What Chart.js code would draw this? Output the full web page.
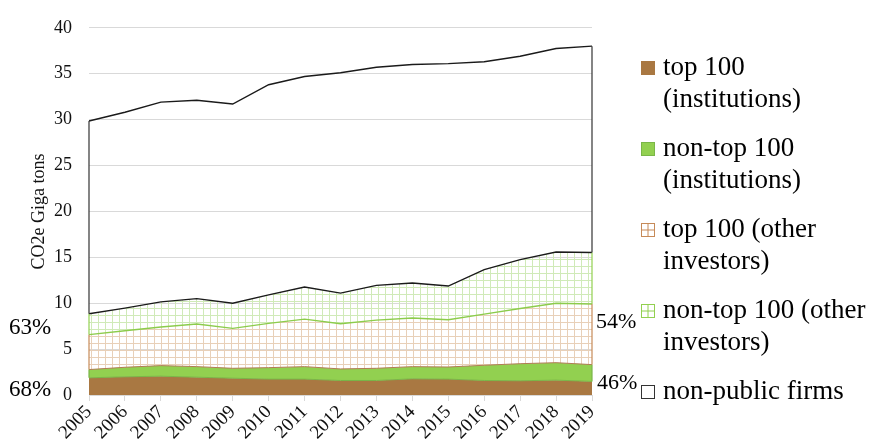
<!DOCTYPE html>
<html><head><meta charset="utf-8">
<script src="https://cdn.jsdelivr.net/npm/chart.js@4"></script>
<style>html,body{margin:0;padding:0;background:#fff}</style>
</head><body>
<canvas id="c" width="881" height="445"></canvas>
<script>
// ---- data ----
const years = ['2005','2006','2007','2008','2009','2010','2011','2012','2013','2014','2015','2016','2017','2018','2019'];
const top100Inst     = [1.87,1.98,2.05,1.94,1.83,1.73,1.73,1.58,1.58,1.76,1.73,1.58,1.55,1.62,1.48];
const nonTop100Inst  = [0.90,1.04,1.15,1.15,1.08,1.25,1.36,1.26,1.33,1.33,1.32,1.66,1.86,1.90,1.83];
const top100Other    = [3.81,3.98,4.20,4.64,4.35,4.82,5.18,4.93,5.25,5.29,5.15,5.57,6.01,6.48,6.61];
const nonTop100Other = [2.27,2.46,2.74,2.77,2.74,3.10,3.49,3.33,3.78,3.82,3.67,4.85,5.32,5.57,5.61];
const nonPublic      = [21.00,21.34,21.76,21.60,21.70,22.90,22.94,24.00,23.76,23.80,24.23,22.64,22.16,22.18,22.47];
const seriesLines = [['top 100','(institutions)'],['non-top 100','(institutions)'],['top 100 (other','investors)'],['non-top 100 (other','investors)'],['non-public firms']];
const leftNotes  = ['68%','63%'];
const rightNotes = ['46%','54%'];
const yAxisTitle = 'CO2e Giga tons';

// ---- styling ----
const FONT = "'Liberation Serif','Times New Roman',serif";
function gridPattern(color, size){
  const c = document.createElement('canvas'); c.width = size; c.height = size;
  const g = c.getContext('2d');
  g.fillStyle = color; g.fillRect(0,0,size,1); g.fillRect(0,0,1,size);
  return document.getElementById('c').getContext('2d').createPattern(c,'repeat');
}
const patTan = gridPattern('#e8d0b8', 7);
const patGreen = gridPattern('#d0eab8', 7);
const fills   = ['#a97842', '#92d050', patTan, patGreen, 'rgba(0,0,0,0)'];
const outline = ['#a97842', '#7ab648', '#c68a58', '#92d050', '#333333'];
const tops    = ['#7ab648', '#b07c55', '#8ccc4c', '#1a1a1a', '#1a1a1a'];
const allData = [top100Inst, nonTop100Inst, top100Other, nonTop100Other, nonPublic];

const datasets = allData.map((d,i)=>({
  label: seriesLines[i].join(' '),
  data: d,
  backgroundColor: fills[i],
  borderColor: tops[i],
  borderWidth: i>=2 ? 1.4 : 1,
  fill: i===0 ? 'origin' : '-1',
  pointRadius: 0, pointHoverRadius: 0, tension: 0
}));

const edgePlugin = {
  id: 'edges',
  afterDatasetsDraw(chart){
    const ctx = chart.ctx;
    ctx.save(); ctx.lineWidth = 1.2;
    for (let i=1;i<datasets.length;i++){
      const m = chart.getDatasetMeta(i).data, p = chart.getDatasetMeta(i-1).data;
      for (const k of [0, m.length-1]){
        ctx.strokeStyle = outline[i];
        ctx.beginPath(); ctx.moveTo(m[k].x, p[k].y); ctx.lineTo(m[k].x, m[k].y); ctx.stroke();
      }
    }
    ctx.restore();
  }
};

const notesPlugin = {
  id: 'notes',
  afterDraw(chart){
    const ctx = chart.ctx, ys = chart.scales.y, a = chart.chartArea;
    ctx.save(); ctx.fillStyle = '#000'; ctx.font = '23px ' + FONT; ctx.textBaseline = 'middle';
    ctx.textAlign = 'left';
    ctx.fillText(leftNotes[0], 9, ys.getPixelForValue(0.6));
    ctx.fillText(leftNotes[1], 9, ys.getPixelForValue(7.3));
    ctx.font = '22px ' + FONT;
    ctx.fillText(rightNotes[0], a.right + 5, ys.getPixelForValue(1.3));
    ctx.fillText(rightNotes[1], a.right + 4, ys.getPixelForValue(7.9));
    ctx.restore();
  }
};

const legendPlugin = {
  id: 'legendBox',
  afterDraw(chart){
    const ctx = chart.ctx;
    ctx.save();
    ctx.font = '27px ' + FONT; ctx.fillStyle = '#000'; ctx.textBaseline = 'middle'; ctx.textAlign = 'left';
    let y = 68;
    const bx = 641, bs = 14, tx = 663, lh = 32;
    seriesLines.forEach((lines,i)=>{
      const by = y - bs/2;
      if (i<2){ ctx.fillStyle = fills[i]; ctx.fillRect(bx,by,bs,bs); ctx.strokeStyle = outline[i]; ctx.lineWidth=1; ctx.strokeRect(bx+0.5,by+0.5,bs-1,bs-1); }
      else {
        ctx.fillStyle = '#fff'; ctx.fillRect(bx,by,bs,bs);
        ctx.strokeStyle = outline[i]; ctx.lineWidth = 1;
        ctx.strokeRect(bx+0.5,by+0.5,bs-1,bs-1);
        if (i<4){ ctx.beginPath(); ctx.moveTo(bx+bs/2,by); ctx.lineTo(bx+bs/2,by+bs); ctx.moveTo(bx,by+bs/2); ctx.lineTo(bx+bs,by+bs/2); ctx.stroke(); }
      }
      ctx.fillStyle = '#000';
      lines.forEach((t,j)=>ctx.fillText(t, tx, y + j*lh));
      y += lines.length*lh + 17;
    });
    ctx.restore();
  }
};

new Chart(document.getElementById('c'), {
  type: 'line',
  data: { labels: years, datasets },
  plugins: [edgePlugin, notesPlugin, legendPlugin],
  options: {
    responsive: false, animation: false,
    layout: { padding: { left: 0, right: 289, top: 24, bottom: 0 } },
    plugins: { legend: { display: false }, tooltip: { enabled: false }, filler: { propagate: false } },
    scales: {
      x: {
        grid: { display: true, drawOnChartArea: false, drawTicks: true, tickLength: 6, color: '#d9d9d9' },
        border: { display: true, color: '#d9d9d9' },
        ticks: { font: { family: FONT, size: 19 }, color: '#111', maxRotation: 45, minRotation: 45, padding: 0, autoSkip: false },
        afterFit: s => { s.height = 50; }
      },
      y: {
        stacked: true, min: 0, max: 40,
        grid: { color: '#d9d9d9', drawTicks: false },
        border: { display: false },
        ticks: { stepSize: 5, font: { family: FONT, size: 18 }, color: '#111', padding: 17 },
        title: { display: true, text: yAxisTitle, font: { family: FONT, size: 18 }, color: '#111', padding: { top: 28, bottom: 0 } },
        afterFit: s => { s.width = 89; }
      }
    }
  }
});
</script>
</body></html>
